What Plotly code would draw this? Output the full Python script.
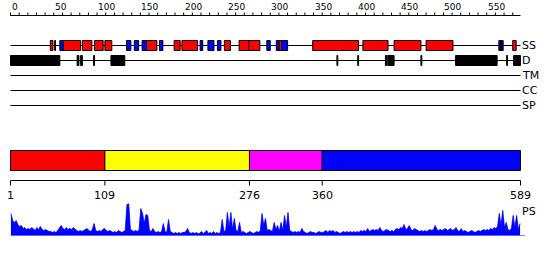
import plotly.graph_objects as go

# ---------------- data ----------------
SEQ_LEN = 589

ruler_labels = [0, 50, 100, 150, 200, 250, 300, 350, 400, 450, 500, 550]
ruler_ticks = list(range(0, 581, 10))

track_names = ["SS", "D", "TM", "CC", "SP"]

helix_start = [47, 52, 62, 84, 98, 110, 158, 190, 199, 248, 265, 276, 311, 350, 408, 444, 481, 567, 581]
helix_end = [49, 52, 81, 94, 107, 117, 169, 196, 216, 254, 275, 288, 313, 402, 436, 474, 511, 567, 584]

strand_start = [58, 135, 144, 153, 173, 220, 229, 240, 297, 308, 314, 565, 568]
strand_end = [61, 139, 148, 157, 176, 222, 235, 243, 300, 310, 320, 566, 569]

disorder_start = [1, 78, 82, 97, 117, 378, 402, 434, 437, 475, 515, 574, 582]
disorder_end = [57, 79, 83, 97, 132, 378, 402, 435, 443, 475, 562, 574, 589]

domain_start = [1, 110, 277, 361]
domain_end = [109, 276, 360, 589]

# PS profile, one value every 2 residues (residues 1,3,5,...,589)
ps_residues = list(range(1, SEQ_LEN + 1, 2))
ps_values = [
    22, 15, 13, 15, 11, 9, 10, 7, 8, 6, 7, 6, 8, 6, 5, 8, 6, 9, 6, 5,
    6, 5, 4, 4, 3, 4, 3, 5, 7, 10, 7, 6, 8, 6, 7, 6, 8, 6, 5, 4,
    5, 4, 5, 6, 7, 5, 4, 6, 12, 5, 4, 5, 4, 6, 7, 5, 4, 5, 4, 3,
    4, 3, 5, 4, 3, 4, 5, 31, 32, 6, 5, 4, 5, 4, 6, 27, 22, 12, 21, 20,
    5, 4, 7, 4, 3, 4, 3, 4, 12, 4, 3, 16, 4, 3, 2, 3, 2, 3, 2, 3,
    3, 4, 7, 3, 2, 3, 2, 3, 2, 2, 4, 2, 3, 5, 2, 3, 2, 4, 2, 3,
    2, 3, 16, 4, 5, 23, 8, 23, 6, 17, 5, 4, 13, 3, 4, 3, 2, 3, 4, 3,
    2, 3, 4, 3, 5, 22, 10, 17, 5, 6, 5, 4, 13, 6, 10, 4, 13, 5, 20, 8,
    23, 5, 4, 3, 4, 3, 4, 3, 7, 4, 3, 2, 3, 4, 3, 3, 2, 3, 4, 3,
    3, 4, 5, 3, 5, 4, 5, 3, 4, 3, 2, 3, 4, 3, 4, 3, 4, 3, 4, 3,
    4, 3, 5, 4, 5, 4, 7, 4, 5, 6, 5, 6, 5, 8, 5, 4, 5, 6, 5, 4,
    5, 4, 6, 7, 6, 8, 7, 11, 6, 7, 10, 6, 5, 7, 6, 5, 4, 5, 4, 5,
    4, 5, 6, 5, 6, 10, 6, 5, 6, 5, 6, 7, 5, 6, 7, 5, 6, 8, 5, 4,
    7, 4, 5, 4, 3, 4, 5, 4, 3, 4, 5, 4, 5, 6, 5, 6, 5, 7, 6, 8,
    7, 9, 22, 10, 25, 8, 13, 6, 5, 7, 20, 8, 20, 6, 12,
]

# ---------------- layout / style ----------------
W, H = 550, 260
PX_LEFT = 10.5
PX_PER_RES = 510 / SEQ_LEN
FONT = "DejaVu Sans"

RULER_Y = 15.5
RULER_TICK = 3
RULER_LABEL_Y = 7
TRACK_Y = [45.5, 60.5, 75.5, 90.5, 105.5]
BOX_HALF = 5
DOMAIN_Y0, DOMAIN_Y1 = 150.5, 170.5
DOMAIN_AXIS_Y = 180.5
DOMAIN_TICK = 5
DOMAIN_LABEL_Y = 195
PS_BASE = 235.5
PS_MAX = 32

HELIX_COLOR = "#FF0000"
STRAND_COLOR = "#0000FF"
DISORDER_COLOR = "#000000"
DOMAIN_COLORS = ["#FF0000", "#FFFF00", "#FF00FF", "#0000FF"]
PS_COLOR = "#0000FF"


def rects(starts, ends, y0, y1):
    xs, ys = [], []
    for s, e in zip(starts, ends):
        xs += [s - 1, e, e, s - 1, s - 1, None]
        ys += [y0, y0, y1, y1, y0, None]
    return xs, ys


def segs(xpos, y0, y1):
    xs, ys = [], []
    for x in xpos:
        xs += [x, x, None]
        ys += [y0, y1, None]
    return xs, ys


fig = go.Figure()
black_line = dict(color="black", width=1)

# ruler
fig.add_trace(go.Scatter(x=[0, SEQ_LEN], y=[RULER_Y, RULER_Y], mode="lines", line=black_line))
tx, ty = segs(ruler_ticks, RULER_Y, RULER_Y - RULER_TICK)
fig.add_trace(go.Scatter(x=tx, y=ty, mode="lines", line=black_line))

# track lines
for y in TRACK_Y:
    fig.add_trace(go.Scatter(x=[0, SEQ_LEN], y=[y, y], mode="lines", line=black_line))

# SS boxes
for st, en, col in [(helix_start, helix_end, HELIX_COLOR), (strand_start, strand_end, STRAND_COLOR)]:
    xs, ys = rects(st, en, TRACK_Y[0] - BOX_HALF, TRACK_Y[0] + BOX_HALF)
    fig.add_trace(go.Scatter(x=xs, y=ys, mode="lines", fill="toself", fillcolor=col, line=black_line))

# disorder boxes
xs, ys = rects(disorder_start, disorder_end, TRACK_Y[1] - BOX_HALF, TRACK_Y[1] + BOX_HALF)
fig.add_trace(go.Scatter(x=xs, y=ys, mode="lines", fill="toself", fillcolor=DISORDER_COLOR, line=black_line))

# domain bar
for s, e, col in zip(domain_start, domain_end, DOMAIN_COLORS):
    xs, ys = rects([s], [e], DOMAIN_Y0, DOMAIN_Y1)
    fig.add_trace(go.Scatter(x=xs, y=ys, mode="lines", fill="toself", fillcolor=col, line=black_line))

# domain boundary axis
dom_tick_pos = [domain_start[0] - 1] + domain_end
dom_tick_lab = [domain_start[0]] + domain_end
fig.add_trace(go.Scatter(x=[0, SEQ_LEN], y=[DOMAIN_AXIS_Y, DOMAIN_AXIS_Y], mode="lines", line=black_line))
tx, ty = segs(dom_tick_pos, DOMAIN_AXIS_Y, DOMAIN_AXIS_Y + DOMAIN_TICK)
fig.add_trace(go.Scatter(x=tx, y=ty, mode="lines", line=black_line))

# PS profile
fig.add_trace(go.Scatter(x=[r - 0.5 for r in ps_residues], y=ps_values, mode="lines",
                         fill="tozeroy", fillcolor=PS_COLOR, line=dict(color=PS_COLOR, width=0.8),
                         yaxis="y2"))
fig.add_trace(go.Scatter(x=[0, SEQ_LEN + 5], y=[0, 0], mode="lines",
                         line=dict(color=PS_COLOR, width=1.2), yaxis="y2"))

annotations = []
for v in ruler_labels:
    annotations.append(dict(x=v, y=RULER_LABEL_Y, text=str(v), xanchor="left", yanchor="middle",
                            showarrow=False, font=dict(family=FONT, size=9, color="black"), xshift=-1))
for name, y in zip(track_names, TRACK_Y):
    annotations.append(dict(x=SEQ_LEN, y=y, text=name, xanchor="left", yanchor="middle",
                            showarrow=False, font=dict(family=FONT, size=11, color="black"), xshift=-1))
for p, lab in zip(dom_tick_pos, dom_tick_lab):
    annotations.append(dict(x=p, y=DOMAIN_LABEL_Y, text=str(lab), xanchor="center", yanchor="middle",
                            showarrow=False, font=dict(family=FONT, size=11, color="black")))
annotations.append(dict(x=SEQ_LEN, y=211, text="PS", xanchor="left", yanchor="middle",
                        showarrow=False, font=dict(family=FONT, size=11, color="black"), xshift=-1))

fig.update_layout(
    width=W, height=H, margin=dict(l=0, r=0, t=0, b=0),
    paper_bgcolor="white", plot_bgcolor="white", showlegend=False,
    xaxis=dict(range=[-PX_LEFT / PX_PER_RES, (W - PX_LEFT) / PX_PER_RES], visible=False, fixedrange=True),
    yaxis=dict(range=[H, 0], visible=False, fixedrange=True),
    yaxis2=dict(range=[0, PS_MAX], visible=False, anchor="x",
                domain=[1 - PS_BASE / H, 1 - (PS_BASE - PS_MAX) / H]),
    annotations=annotations,
    hovermode=False,
)

fig.write_html("out.html")
